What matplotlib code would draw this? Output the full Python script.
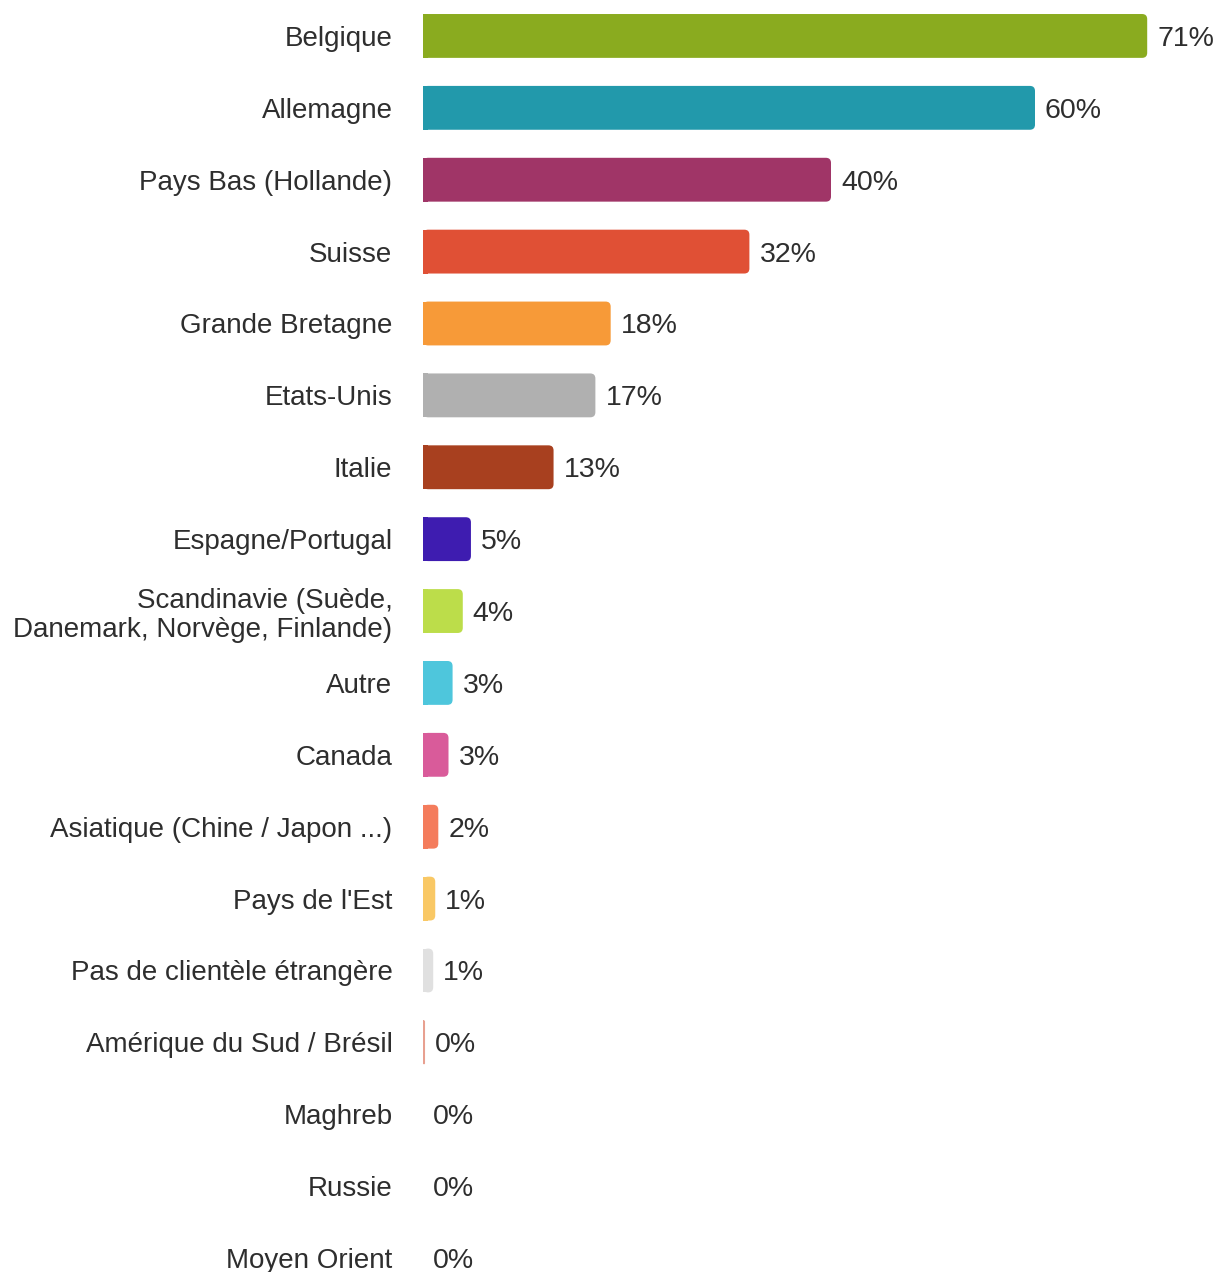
import matplotlib
matplotlib.use('Agg')
import matplotlib.pyplot as plt
from matplotlib.patches import FancyBboxPatch, Rectangle

plt.rcParams['font.family'] = ['Liberation Sans', 'DejaVu Sans']

pays = ['Belgique', 'Allemagne', 'Pays Bas (Hollande)', 'Suisse', 'Grande Bretagne',
        'Etats-Unis', 'Italie', 'Espagne/Portugal',
        'Scandinavie (Suède,\nDanemark, Norvège, Finlande)', 'Autre', 'Canada',
        'Asiatique (Chine / Japon ...)', "Pays de l'Est", 'Pas de clientèle étrangère',
        'Amérique du Sud / Brésil', 'Maghreb', 'Russie', 'Moyen Orient']
valeurs = [71, 60, 40, 32, 18.4, 16.9, 12.8, 4.7, 3.9, 2.9, 2.5, 1.5, 1.2, 1.0, 0.2, 0, 0, 0]
etiquettes = ['71%', '60%', '40%', '32%', '18%', '17%', '13%', '5%', '4%', '3%', '3%',
              '2%', '1%', '1%', '0%', '0%', '0%', '0%']
couleurs = ['#8aab1f', '#2299ab', '#a03567', '#e05035', '#f79a38', '#b0b0b0', '#a8401f',
            '#3e1cb0', '#bcdd4a', '#4ec6dc', '#d95b9a', '#f47c5c', '#f9c865', '#e0e0e0',
            '#e8a090', '#ffffff', '#ffffff', '#ffffff']

W, H = 1215, 1272
fig = plt.figure(figsize=(W / 100, H / 100), dpi=100)
ax = fig.add_axes([423 / W, 0, 1 - 423 / W, 1])

y = list(range(len(pays)))
bars = ax.barh(y, valeurs, height=0.61, color=couleurs)

px_x = 10.2   # pixels par unité x
px_y = 72     # pixels par unité y
ax.set_xlim(0, (W - 423) / px_x)
ax.set_ylim(17 + (H - 1258) / px_y, -0.5)

# barres arrondies seulement à droite
for b, c in zip(bars, couleurs):
    b.set_visible(False)
    w = b.get_width()
    if w <= 0:
        continue
    r = min(0.5, w / 2)
    p = FancyBboxPatch((b.get_x(), b.get_y()), w, b.get_height(),
                       boxstyle='round,pad=0,rounding_size=%f' % r,
                       mutation_aspect=px_x / px_y, facecolor=c, edgecolor='none')
    ax.add_patch(p)
    ax.add_patch(Rectangle((b.get_x(), b.get_y()), r, b.get_height(),
                           facecolor=c, edgecolor='none'))

txt = '#2e2e2e'
for yi, v, t in zip(y, valeurs, etiquettes):
    ax.text(v + 10 / px_x, yi, t, va='center_baseline', ha='left', fontsize=20.5, color=txt)

ax.set_yticks(y)
ax.set_yticklabels(pays, fontsize=20, color=txt, linespacing=1.15)
ax.tick_params(axis='y', length=0, pad=22)
ax.set_xticks([])
for s in ax.spines.values():
    s.set_visible(False)

fig.savefig('out.png', dpi=100)
